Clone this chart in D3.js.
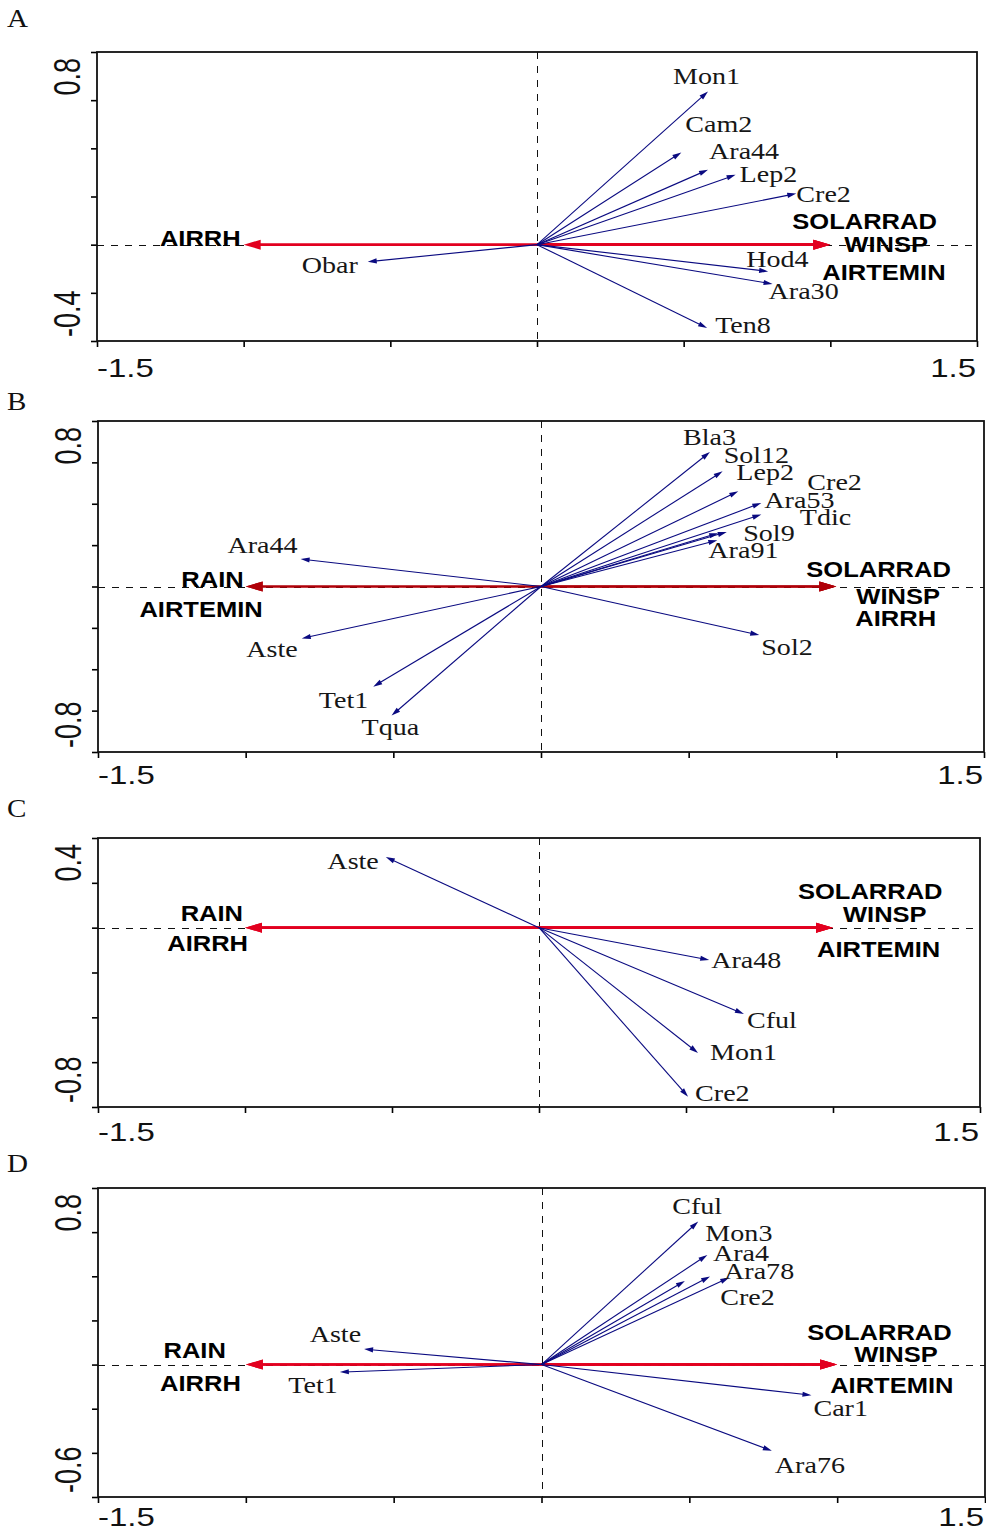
<!DOCTYPE html>
<html>
<head>
<meta charset="utf-8">
<script src="https://cdn.jsdelivr.net/npm/d3@7/dist/d3.min.js"></script>
<style>
  body { margin: 0; background: #fff; }
  svg { display: block; }
</style>
</head>
<body>
<div id="chart"></div>
<script>
// ---- data ----
const xTicks = [-1.5, -1, -0.5, 0, 0.5, 1, 1.5];

// A
const speciesA = ['Mon1', 'Cam2', 'Ara44', 'Lep2', 'Cre2', 'Hod4', 'Ara30', 'Ten8', 'Obar'];
const ax1A = [0.583, 0.492, 0.583, 0.677, 0.884, 0.788, 0.803, 0.580, -0.577];
const ax2A = [0.636, 0.383, 0.311, 0.290, 0.212, -0.111, -0.163, -0.346, -0.071];
const envA = ['SOLARRAD', 'WINSP', 'AIRTEMIN', 'AIRRH'];
const envAx1A = [1, 1, 1, -1];
const yTicksA = [-0.4, -0.2, 0, 0.2, 0.4, 0.6, 0.8];

// B
const speciesB = ['Bla3', 'Sol12', 'Lep2', 'Cre2', 'Ara53', 'Tdic', 'Sol9', 'Ara91', 'Sol2', 'Ara44', 'Aste', 'Tet1', 'Tqua'];
const ax1B = [0.572, 0.615, 0.668, 0.746, 0.746, 0.629, 0.600, 0.597, 0.739, -0.814, -0.810, -0.568, -0.506];
const ax2B = [0.650, 0.557, 0.460, 0.404, 0.348, 0.264, 0.258, 0.224, -0.235, 0.133, -0.251, -0.484, -0.624];
const envB = ['SOLARRAD', 'WINSP', 'AIRRH', 'RAIN', 'AIRTEMIN'];
const envAx1B = [1, 1, 1, -1, -1];
const yTicksB = [-0.8, -0.6, -0.4, -0.2, 0, 0.2, 0.4, 0.6, 0.8];

// C
const speciesC = ['Aste', 'Ara48', 'Cful', 'Mon1', 'Cre2'];
const ax1C = [-0.521, 0.579, 0.697, 0.541, 0.507];
const ax2C = [0.315, -0.144, -0.385, -0.559, -0.754];
const envC = ['SOLARRAD', 'WINSP', 'AIRTEMIN', 'RAIN', 'AIRRH'];
const envAx1C = [1, 1, 1, -1, -1];
const yTicksC = [-0.8, -0.6, -0.4, -0.2, 0, 0.2, 0.4];

// D
const speciesD = ['Cful', 'Mon3', 'Ara4', 'Ara78', 'Cre2', 'Car1', 'Ara76', 'Aste', 'Tet1'];
const ax1D = [0.530, 0.561, 0.485, 0.570, 0.635, 0.913, 0.779, -0.600, -0.682];
const ax2D = [0.648, 0.497, 0.379, 0.399, 0.394, -0.139, -0.391, 0.070, -0.034];
const envD = ['SOLARRAD', 'WINSP', 'AIRTEMIN', 'RAIN', 'AIRRH'];
const envAx1D = [1, 1, 1, -1, -1];
const yTicksD = [-0.6, -0.4, -0.2, 0, 0.2, 0.4, 0.6, 0.8];

// ---- label placement (pixel nudges from arrow tips) ----
const spLabA = [['start', -35, -7], ['start', 4, -20], ['start', 1, -11], ['start', 4, 7], ['start', 0, 8],
  ['start', -22, -4], ['start', -4, 15], ['start', 8, 5], ['end', -10, 11]];
const envLabA = [['start', -38, -16], ['start', 14, 7], ['start', -8, 35], ['end', -3, 1]];

const spLabB = [['start', -27, -7], ['start', 1, -8], ['start', -2, -11], ['start', 46, -13], ['start', 3, -7],
  ['start', 73, -7], ['start', 25, 8], ['start', -9, 18], ['start', 2, 20], ['end', -3, -6],
  ['end', -4, 19], ['end', -5, 21], ['start', -30, 19]];
const envLabB = [['start', -30, -10], ['start', 20, 17], ['start', 19, 39], ['end', -2, 0], ['end', 17, 30]];

const spLabC = [['end', -7, 12], ['start', 2, 8], ['start', 3, 14], ['start', 12, 7], ['start', 7, 4]];
const envLabC = [['start', -35, -29], ['start', 10, -6], ['start', -16, 29], ['end', -2, -7], ['end', 3, 23]];

const spLabD = [['start', -26, -8], ['start', -2, -14], ['start', 28, -20], ['start', 14, 2], ['start', -9, 27],
  ['start', 2, 21], ['start', 3, 22], ['end', -3, -7], ['end', -2, 21]];
const envLabD = [['start', -30, -25], ['start', 17, -3], ['start', -7, 28], ['end', -20, -7], ['end', -5, 26]];

const panels = [
  { id: 'A', sp: speciesA, ax1: ax1A, ax2: ax2A, env: envA, envAx1: envAx1A, yTicks: yTicksA,
    spLab: spLabA, envLab: envLabA, box: [97, 52, 977, 341], letterY: 27, xLabDy: 36, red: '#e2001f', redW: 2.6 },
  { id: 'B', sp: speciesB, ax1: ax1B, ax2: ax2B, env: envB, envAx1: envAx1B, yTicks: yTicksB,
    spLab: spLabB, envLab: envLabB, box: [98, 421, 984, 752], letterY: 410, xLabDy: 32, red: '#b00008', redW: 2.2 },
  { id: 'C', sp: speciesC, ax1: ax1C, ax2: ax2C, env: envC, envAx1: envAx1C, yTicks: yTicksC,
    spLab: spLabC, envLab: envLabC, box: [98, 838, 980, 1107], letterY: 817, xLabDy: 34, red: '#e2001f', redW: 2.6 },
  { id: 'D', sp: speciesD, ax1: ax1D, ax2: ax2D, env: envD, envAx1: envAx1D, yTicks: yTicksD,
    spLab: spLabD, envLab: envLabD, box: [98, 1188, 985, 1497], letterY: 1172, xLabDy: 29, red: '#e2001f', redW: 2.6 }
];

const navy = '#0a0a80';
const sans = '"Liberation Sans", Arial, sans-serif';
const serif = '"Liberation Serif", "Times New Roman", serif';

const svg = d3.select('#chart').append('svg')
  .attr('width', 986)
  .attr('height', 1533);

// arrow head polygon pointing from (x1,y1) to (x2,y2)
function headPath(x1, y1, x2, y2, len, half) {
  let a = Math.atan2(y2 - y1, x2 - x1);
  let bx = x2 - len * Math.cos(a), by = y2 - len * Math.sin(a);
  let px = -Math.sin(a) * half, py = Math.cos(a) * half;
  return `M${x2},${y2}L${bx + px},${by + py}L${bx - px},${by - py}Z`;
}

function shorten(x1, y1, x2, y2, d) {
  let a = Math.atan2(y2 - y1, x2 - x1);
  return [x2 - d * Math.cos(a), y2 - d * Math.sin(a)];
}

function stretchedText(g, txt, x, y, anchor, k, font, size, weight, fill) {
  g.append('text')
    .attr('transform', `translate(${x},${y}) scale(${k},1)`)
    .attr('text-anchor', anchor)
    .style('font-family', font)
    .style('font-size', size + 'px')
    .style('font-weight', weight)
    .attr('fill', fill)
    .text(txt);
}

panels.forEach(p => {
  let [l, t, r, b] = p.box;
  let x = d3.scaleLinear().domain(d3.extent(xTicks)).range([l, r]);
  let y = d3.scaleLinear().domain(d3.extent(p.yTicks)).range([b, t]);
  let g = svg.append('g');

  // panel letter
  stretchedText(g, p.id, 7, p.letterY, 'start', 1.12, serif, 26, 'normal', '#111');

  // zero lines (snapped to the pixel grid so the dashes stay dark)
  let zy = Math.round(y(0)) + 0.5, zx = Math.round(x(0)) + 0.5;
  g.append('line')
    .attr('x1', l).attr('x2', r).attr('y1', zy).attr('y2', zy)
    .attr('stroke', '#111').attr('stroke-width', 1).attr('stroke-dasharray', '7,7');
  g.append('line')
    .attr('x1', zx).attr('x2', zx).attr('y1', t).attr('y2', b)
    .attr('stroke', '#111').attr('stroke-width', 1).attr('stroke-dasharray', '7,7');

  // axes (ticks only)
  let xAxis = d3.axisBottom(x).tickValues(xTicks).tickSize(6).tickFormat('');
  g.append('g').attr('transform', `translate(0,${b})`).call(xAxis)
    .call(s => s.select('.domain').remove())
    .selectAll('line').attr('stroke-width', 1.6);
  let yAxis = d3.axisLeft(y).tickValues(p.yTicks).tickSize(6).tickFormat('');
  g.append('g').attr('transform', `translate(${l},0)`).call(yAxis)
    .call(s => s.select('.domain').remove())
    .selectAll('line').attr('stroke-width', 1.6);

  g.append('rect')
    .attr('x', l).attr('y', t).attr('width', r - l).attr('height', b - t)
    .attr('fill', 'none').attr('stroke', '#111').attr('stroke-width', 1.8);

  // end labels of the axes
  stretchedText(g, String(xTicks[0]), l, b + p.xLabDy, 'start', 1.32, sans, 25, 'normal', '#111');
  stretchedText(g, String(xTicks[xTicks.length - 1]), r - 1, b + p.xLabDy, 'end', 1.32, sans, 25, 'normal', '#111');
  let y0 = p.yTicks[0], y1 = p.yTicks[p.yTicks.length - 1];
  g.append('text')
    .attr('transform', `translate(${l - 17},${b - 4}) rotate(-90) scale(1,1.38)`)
    .attr('text-anchor', 'start')
    .style('font-family', sans).style('font-size', '27px')
    .attr('fill', '#111').text(String(y0));
  g.append('text')
    .attr('transform', `translate(${l - 17},${t + 6}) rotate(-90) scale(1,1.38)`)
    .attr('text-anchor', 'end')
    .style('font-family', sans).style('font-size', '27px')
    .attr('fill', '#111').text(String(y1));

  let ox = x(0), oy = y(0);

  // environmental arrows
  p.env.forEach((name, i) => {
    let tx = x(p.envAx1[i]), ty = y(0);
    let [sx, sy] = shorten(ox, oy, tx, ty, 10);
    g.append('line')
      .attr('x1', ox).attr('y1', oy).attr('x2', sx).attr('y2', sy)
      .attr('stroke', p.red).attr('stroke-width', p.redW);
    g.append('path').attr('d', headPath(ox, oy, tx, ty, 17, 5)).attr('fill', p.red);
  });

  // species arrows
  p.sp.forEach((name, i) => {
    let tx = x(p.ax1[i]), ty = y(p.ax2[i]);
    let [sx, sy] = shorten(ox, oy, tx, ty, 4);
    g.append('line')
      .attr('x1', ox).attr('y1', oy).attr('x2', sx).attr('y2', sy)
      .attr('stroke', navy).attr('stroke-width', 1.1);
    g.append('path').attr('d', headPath(ox, oy, tx, ty, 9, 2.6)).attr('fill', navy);
  });

  // labels
  p.sp.forEach((name, i) => {
    let [anc, dx, dy] = p.spLab[i];
    stretchedText(g, name, x(p.ax1[i]) + dx, y(p.ax2[i]) + dy, anc, 1.17, serif, 24, 'normal', '#161616');
  });
  p.env.forEach((name, i) => {
    let [anc, dx, dy] = p.envLab[i];
    stretchedText(g, name, x(p.envAx1[i]) + dx, y(0) + dy, anc, 1.16, sans, 22, 'bold', '#000');
  });
});
</script>
</body>
</html>
